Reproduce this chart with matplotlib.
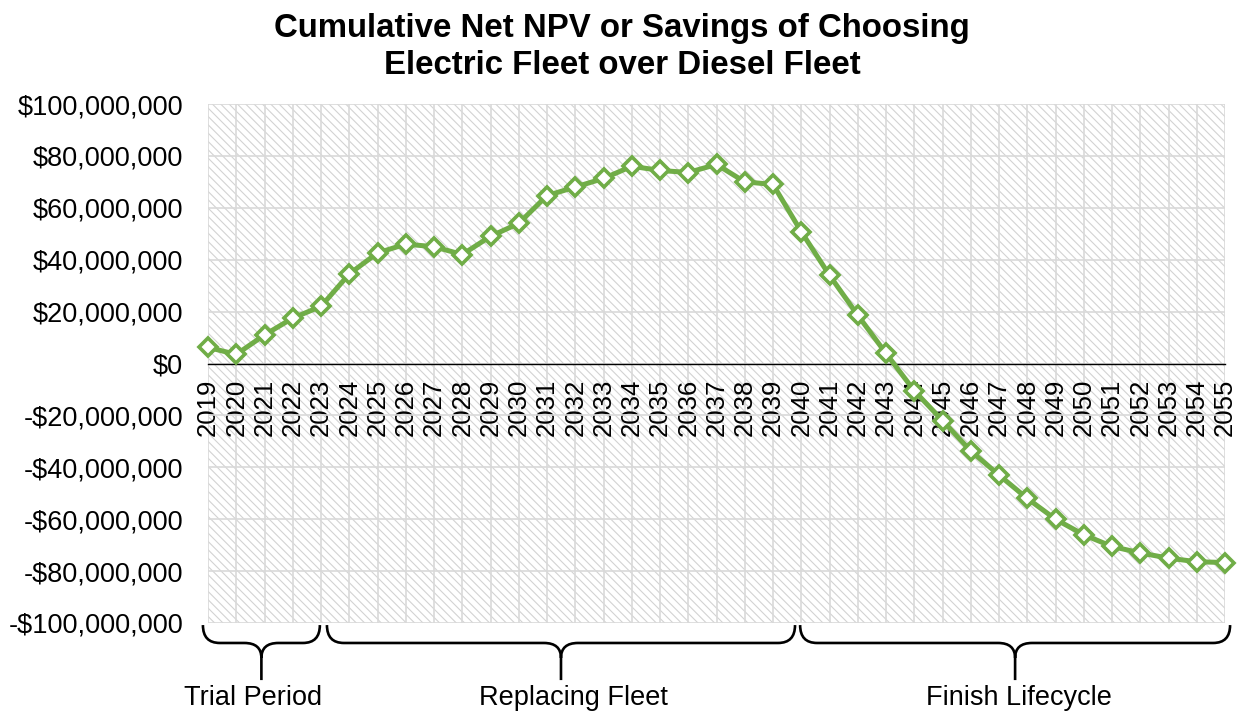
import numpy as np
import matplotlib
matplotlib.use("Agg")
import matplotlib.pyplot as plt
from matplotlib.path import Path
from matplotlib.patches import PathPatch
from matplotlib.ticker import FuncFormatter
import matplotlib.transforms as mtransforms

# data (millions of dollars)
years = list(range(2019, 2056))
npv_millions = [6.2, 3.5, 11.0, 17.5, 22.0, 34.5, 42.6, 46.0, 45.0, 42.0,
                49.0, 54.0, 64.7, 68.0, 71.3, 76.0, 74.4, 73.6, 76.7, 70.0,
                69.0, 50.8, 34.0, 18.6, 3.9, -10.5, -22.0, -33.7, -43.0, -52.0,
                -60.0, -66.0, -70.5, -73.0, -75.0, -76.4, -76.7]
phase_labels = ["Trial Period", "Replacing Fleet", "Finish Lifecycle"]
phase_spans = [(2018.82, 2022.96), (2023.21, 2039.78), (2039.96, 2055.18)]
phase_label_x = [2020.58, 2031.92, 2047.7]

plt.rcParams['font.family'] = ['Liberation Sans', 'DejaVu Sans']
plt.rcParams['hatch.color'] = '#d3d3d3'
plt.rcParams['hatch.linewidth'] = 0.8

W, H = 1244, 717
fig = plt.figure(figsize=(W / 100, H / 100), dpi=100)
ax = fig.add_axes([208 / W, (H - 623) / H, (1225 - 208) / W, (623 - 104) / H])

# hatched plot background
ax.patch.set_facecolor('white')
ax.patch.set_hatch('\\\\\\\\')
ax.patch.set_edgecolor('#d3d3d3')
ax.patch.set_linewidth(0)

values = np.array(npv_millions) * 1e6
ax.plot(years, values, color='#70ad47', lw=3.6, marker='D', ms=9,
        mfc='white', mec='#70ad47', mew=2.6, zorder=3, clip_on=False)

ax.set_xlim(2019, 2055)
ax.set_ylim(-100e6, 100e6)
ax.set_yticks(np.arange(-100e6, 100e6 + 1, 20e6))
ax.yaxis.set_major_formatter(FuncFormatter(
    lambda v, p: f"${v:,.0f}" if v >= 0 else f"-${-v:,.0f}"))
ax.set_xticks(years)
ax.set_xticklabels([str(y) for y in years])

ax.set_axisbelow(True)
ax.grid(True, color='#d9d9d9', lw=1.2)
for s in ['top', 'right', 'left']:
    ax.spines[s].set_visible(False)
ax.spines['bottom'].set_position(('data', 0))
ax.spines['bottom'].set_color('black')
ax.spines['bottom'].set_linewidth(1.0)
ax.tick_params(axis='both', length=0, colors='black')
ax.tick_params(axis='x', pad=11, labelsize=18.5, labelrotation=90)
ax.tick_params(axis='y', pad=18, labelsize=19.5)

# curly braces under the plot
trans = mtransforms.blended_transform_factory(ax.transData, ax.transAxes)
y0, y1, y2, y3 = -0.004, -0.0385, -0.0674, -0.11
r = 0.6
for (xl, xr), name, lx in zip(phase_spans, phase_labels, phase_label_x):
    xm = (xl + xr) / 2
    verts = [(xl, y0), (xl, y1), (xl + r, y1), (xm - r, y1), (xm, y1), (xm, y2), (xm, y3),
             (xr, y0), (xr, y1), (xr - r, y1), (xm + r, y1), (xm, y1), (xm, y2)]
    codes = [Path.MOVETO, Path.CURVE3, Path.CURVE3, Path.LINETO, Path.CURVE3, Path.CURVE3, Path.LINETO,
             Path.MOVETO, Path.CURVE3, Path.CURVE3, Path.LINETO, Path.CURVE3, Path.CURVE3]
    ax.add_patch(PathPatch(Path(verts, codes), transform=trans, fill=False,
                           lw=1.9, edgecolor='black', clip_on=False))
    ax.text(lx, -0.1445, name, transform=trans, ha='center', va='center', fontsize=19.5)

fig.text(0.5, 1 - 13 / H, "Cumulative Net NPV or Savings of Choosing\nElectric Fleet over Diesel Fleet",
         ha='center', va='top', fontsize=23.8, fontweight='bold', linespacing=1.25)

fig.savefig("out.png", dpi=100)
